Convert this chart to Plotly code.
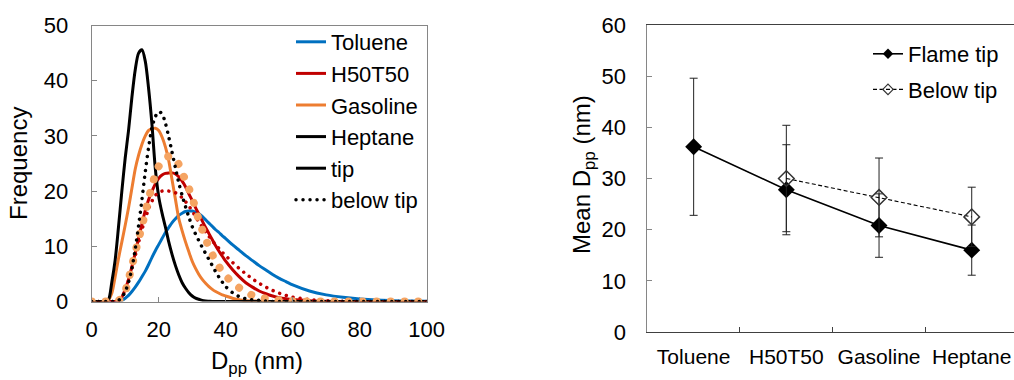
import plotly.graph_objects as go

# ---------------- data: left panel (size distributions) ----------------
d_nm = list(range(0, 41)) + list(range(42, 61, 2)) + list(range(65, 101, 5))

toluene_tip = [0, 0, 0, 0, 0, 0, 0, 0, 0,
               0.2, 0.6, 1.1, 1.8, 2.6, 3.5, 4.5, 5.5, 6.7, 8.0, 9.2, 10.3, 11.4, 12.5, 13.4, 14.3,
               15.0, 15.6, 16.0, 16.3, 16.4, 16.4, 16.2, 15.9, 15.4, 14.8, 14.2, 13.6, 13.0, 12.5, 11.9, 11.4,
               10.3, 9.3, 8.3, 7.4, 6.5, 5.7, 4.9, 4.2, 3.6, 3.0,
               1.9, 1.2, 0.75, 0.45, 0.25, 0.15, 0.08, 0.05]
h50t50_tip = [0, 0, 0, 0, 0, 0, 0, 0,
              0.2, 0.8, 2.2, 4.0, 6.3, 8.8, 11.5, 14.0, 16.5, 18.5, 20.0, 21.3, 22.3, 22.9, 23.2, 23.3,
              23.3, 23.1, 22.6, 21.8, 20.8, 19.5, 18.3, 17.0, 15.8, 14.6, 13.4, 12.3, 11.2, 10.1, 9.1, 8.2, 7.3,
              5.8, 4.5, 3.4, 2.6, 1.9, 1.4, 1.0, 0.7, 0.5, 0.35,
              0.15, 0.05, 0, 0, 0, 0, 0, 0]
gasoline_tip = [0, 0, 0, 0, 0,
                0.3, 1.5, 4.5, 7.8, 10.8, 13.8, 17.0, 20.5, 24.0, 26.5, 28.5, 30.0, 31.0, 31.3, 31.4,
                31.0, 29.8, 28.0, 25.5, 22.0, 18.5, 15.0, 12.8, 10.8, 9.0, 7.3, 6.0, 4.9, 4.0, 3.3, 2.7,
                2.2, 1.8, 1.5, 1.2, 1.0,
                0.6, 0.3, 0.15, 0.1, 0.05, 0, 0, 0, 0, 0,
                0, 0, 0, 0, 0, 0, 0, 0]
heptane_tip = [0, 0, 0, 0, 0,
               0.3, 3.5, 7.5, 13.5, 20.0, 26.0, 31.0, 37.0, 42.0, 45.0, 45.6, 43.5, 38.5, 32.0, 24.0,
               19.0, 16.0, 13.5, 10.8, 8.5, 6.5, 4.8, 3.4, 2.4, 1.6, 1.0, 0.6, 0.4, 0.2, 0.1, 0.05,
               0, 0, 0, 0, 0,
               0, 0, 0, 0, 0, 0, 0, 0, 0, 0,
               0, 0, 0, 0, 0, 0, 0, 0]
h50t50_below = [0, 0, 0, 0, 0, 0, 0, 0,
                0.2, 0.8, 2.0, 3.8, 6.0, 8.3, 10.7, 13.0, 15.0, 16.8, 18.2, 19.2, 19.8, 20.0, 20.1, 20.0,
                19.9, 19.7, 19.3, 18.8, 18.1, 17.3, 16.4, 15.4, 14.4, 13.5, 12.6, 11.8, 11.0, 10.3, 9.6, 8.9, 8.3,
                7.1, 6.0, 5.0, 4.1, 3.3, 2.6, 2.0, 1.5, 1.1, 0.8,
                0.35, 0.15, 0.05, 0, 0, 0, 0, 0]
gasoline_below = [0, 0, 0, 0, 0, 0, 0, 0,
                  0.2, 0.6, 1.8, 4.0, 6.4, 8.9, 11.3, 13.7, 16.1, 18.6, 20.9, 23.0, 24.5, 25.5, 26.0, 26.3,
                  26.3, 25.8, 24.8, 23.4, 21.9, 20.5, 18.8, 16.8, 14.7, 13.0, 11.4, 9.8, 8.5, 7.3, 6.3, 5.4, 4.7,
                  3.4, 2.5, 1.7, 1.1, 0.7, 0.5, 0.3, 0.2, 0.1, 0.05,
                  0, 0, 0, 0, 0, 0, 0, 0]
heptane_below = [0, 0, 0, 0, 0, 0, 0, 0,
                 0.2, 0.8, 1.8, 3.5, 6.0, 9.5, 13.8, 18.5, 23.5, 28.0, 31.5, 33.5, 34.4, 34.0, 32.3, 29.8,
                 27.0, 24.2, 21.5, 19.2, 17.2, 15.3, 13.6, 12.2, 11.0, 9.8, 8.7, 7.6, 6.5, 5.4, 4.4, 3.5, 2.7,
                 1.6, 0.9, 0.5, 0.3, 0.2, 0.1, 0, 0, 0, 0,
                 0, 0, 0, 0, 0, 0, 0, 0]

# ---------------- data: right panel (mean size) ----------------
fuels = ["Toluene", "H50T50", "Gasoline", "Heptane"]
flame_tip_mean = [36.2, 27.8, 20.8, 16.0]
flame_tip_err = [13.4, 8.8, 6.2, 4.9]
below_fuels = ["H50T50", "Gasoline", "Heptane"]
below_tip_mean = [30.0, 26.3, 22.5]
below_tip_err = [10.4, 7.7, 5.8]

left_ticks = [0, 20, 40, 60, 80, 100]
right_ticks = [0, 10, 20, 30, 40, 50, 60]

# ---------------- styles ----------------
FONT = "Arial, Liberation Sans, sans-serif"
BLUE = "#0070C0"
RED = "#C00000"
ORANGE = "#ED7D31"
ORANGE_DOT = "#F5A462"
BLACK = "#000000"
GRID = "#868686"
TICK_SIZE = 22
TITLE_SIZE = 24

W, H = 1014, 380
def px_x(p):
    return p / W
def px_y(p):
    return 1 - p / H

fig = go.Figure()

# tip curves
for name, ys, col in [("Toluene", toluene_tip, BLUE), ("H50T50", h50t50_tip, RED),
                      ("Gasoline", gasoline_tip, ORANGE), ("Heptane", heptane_tip, BLACK)]:
    fig.add_trace(go.Scatter(x=d_nm, y=ys, mode="lines", name=name,
                             line=dict(color=col, width=3, shape="spline", smoothing=0.8),
                             xaxis="x", yaxis="y", legendgroup=name, legend="legend"))
# below-tip curves
fig.add_trace(go.Scatter(x=d_nm, y=h50t50_below, mode="lines", showlegend=False,
                         line=dict(color=RED, width=3.5, dash="3.5px,3.5px", shape="spline", smoothing=0.8),
                         xaxis="x", yaxis="y"))
fig.add_trace(go.Scatter(x=d_nm, y=gasoline_below, mode="lines", showlegend=False,
                         line=dict(color=ORANGE_DOT, width=8, dash="8px,6px", shape="spline", smoothing=0.8),
                         xaxis="x", yaxis="y"))
fig.add_trace(go.Scatter(x=d_nm, y=heptane_below, mode="lines", showlegend=False,
                         line=dict(color=BLACK, width=3.5, dash="3.5px,3.5px", shape="spline", smoothing=0.8),
                         xaxis="x", yaxis="y"))
# legend-only entries
fig.add_trace(go.Scatter(x=[None], y=[None], mode="lines", name="tip",
                         line=dict(color=BLACK, width=3), xaxis="x", yaxis="y",
                         legendgroup="tip", legend="legend"))
fig.add_trace(go.Scatter(x=[None], y=[None], mode="lines", name="below tip",
                         line=dict(color=BLACK, width=3.5, dash="3.5px,3.5px"), xaxis="x", yaxis="y",
                         legendgroup="below", legend="legend"))

# right panel
fig.add_trace(go.Scatter(x=fuels, y=flame_tip_mean, mode="lines+markers", showlegend=False,
                         line=dict(color=BLACK, width=1.6),
                         marker=dict(symbol="diamond", size=13, color=BLACK),
                         error_y=dict(type="data", array=flame_tip_err, color="#222", thickness=1, width=4),
                         xaxis="x2", yaxis="y2"))
fig.add_trace(go.Scatter(x=below_fuels, y=below_tip_mean, mode="lines+markers", showlegend=False,
                         line=dict(color=BLACK, width=1.1, dash="4px,2.5px"),
                         marker=dict(symbol="diamond-open", size=12, color="#333", line=dict(width=1.5)),
                         error_y=dict(type="data", array=below_tip_err, color="#222", thickness=1, width=4),
                         xaxis="x2", yaxis="y2"))
fig.add_trace(go.Scatter(x=[None], y=[None], mode="lines+markers", name="Flame tip",
                         line=dict(color=BLACK, width=1.6),
                         marker=dict(symbol="diamond", size=8, color=BLACK),
                         xaxis="x", yaxis="y", legend="legend2", legendgroup="ft"))
fig.add_trace(go.Scatter(x=[None], y=[None], mode="lines+markers", name="Below tip",
                         line=dict(color=BLACK, width=1.1, dash="4px,2.5px"),
                         marker=dict(symbol="diamond-open", size=8, color="#333", line=dict(width=1.2)),
                         xaxis="x", yaxis="y", legend="legend2", legendgroup="bt"))

tickfont = dict(family=FONT, size=TICK_SIZE, color=BLACK)

fig.update_layout(
    width=W, height=H, autosize=False,
    margin=dict(l=0, r=0, t=0, b=0, pad=0, autoexpand=False),
    paper_bgcolor="white", plot_bgcolor="white",
    font=dict(family=FONT, color=BLACK),
    xaxis=dict(domain=[px_x(91.7), px_x(426.7)], range=[0, 100], tickvals=left_ticks,
               showgrid=False, zeroline=False, showline=True, linecolor=GRID, linewidth=1,
               mirror=True, ticks="inside", ticklen=5, tickcolor=GRID, tickfont=tickfont,
               ticklabelstandoff=8, automargin=False),
    yaxis=dict(domain=[px_y(301.5), px_y(25.5)], range=[0, 50], tickvals=[0, 10, 20, 30, 40, 50],
               showgrid=False, zeroline=False, showline=True, linecolor=GRID, linewidth=1,
               mirror=True, ticks="inside", ticklen=5, tickcolor=GRID, tickfont=tickfont,
               ticklabelstandoff=18, automargin=False),
    xaxis2=dict(domain=[px_x(647.3), 1.0], type="category", categoryorder="array",
                categoryarray=fuels, range=[-0.5, 3.456], tickson="boundaries", tickangle=0,
                showgrid=False, zeroline=False, showline=True, linecolor="#404040", linewidth=1,
                mirror=True, ticks="inside", ticklen=5, tickcolor="#404040",
                tickfont=dict(family=FONT, size=21, color=BLACK),
                ticklabelstandoff=6, anchor="y2", automargin=False),
    yaxis2=dict(domain=[px_y(332), px_y(25)], range=[0, 60], tickvals=right_ticks,
                showgrid=False, zeroline=False, showline=True, linecolor=GRID, linewidth=1,
                ticks="inside", ticklen=5, tickcolor=GRID, tickfont=tickfont,
                ticklabelstandoff=16, anchor="x2", automargin=False),
    legend=dict(x=px_x(291), y=px_y(21), xanchor="left", yanchor="top",
                font=dict(family=FONT, size=TICK_SIZE, color=BLACK), bgcolor="rgba(0,0,0,0)",
                traceorder="grouped", tracegroupgap=0, itemwidth=30),
    legend2=dict(x=px_x(868), y=px_y(33), xanchor="left", yanchor="top",
                 font=dict(family=FONT, size=TICK_SIZE, color=BLACK), bgcolor="rgba(0,0,0,0)",
                 traceorder="grouped", tracegroupgap=4, itemwidth=30),
    showlegend=True,
)

# axis titles
fig.add_annotation(text="Frequency", x=px_x(18), y=px_y(164), xref="paper", yref="paper",
                   textangle=-90, showarrow=False, font=dict(family=FONT, size=TITLE_SIZE, color=BLACK),
                   xanchor="center", yanchor="middle")
fig.add_annotation(text="D<sub>pp</sub> (nm)", x=px_x(257), y=px_y(362), xref="paper", yref="paper",
                   showarrow=False, font=dict(family=FONT, size=TITLE_SIZE, color=BLACK),
                   xanchor="center", yanchor="middle")
fig.add_annotation(text="Mean D<sub>pp</sub> (nm)", x=px_x(583), y=px_y(175), xref="paper", yref="paper",
                   textangle=-90, showarrow=False, font=dict(family=FONT, size=TITLE_SIZE, color=BLACK),
                   xanchor="center", yanchor="middle")

post = """
document.body.style.margin = '0';
document.body.style.overflow = 'hidden';
var gd = document.getElementById('{plot_id}');
function roundDots() {
  gd.querySelectorAll('path.js-line').forEach(function(p) {
    var da = p.style.strokeDasharray;
    var sw = parseFloat(p.style.strokeWidth);
    if (da && da !== 'none' && da.indexOf('0.01') !== 0 && sw >= 3) {
      var parts = da.split(',').map(function(s) { return parseFloat(s); });
      var tot = parts[0] + parts[1];
      p.style.strokeLinecap = 'round';
      p.style.strokeDasharray = '0.01px,' + tot + 'px';
    }
  });
}
roundDots();
gd.on('plotly_afterplot', roundDots);
"""

fig.write_html("out.html", post_script=post, config={"responsive": False, "displayModeBar": False})
